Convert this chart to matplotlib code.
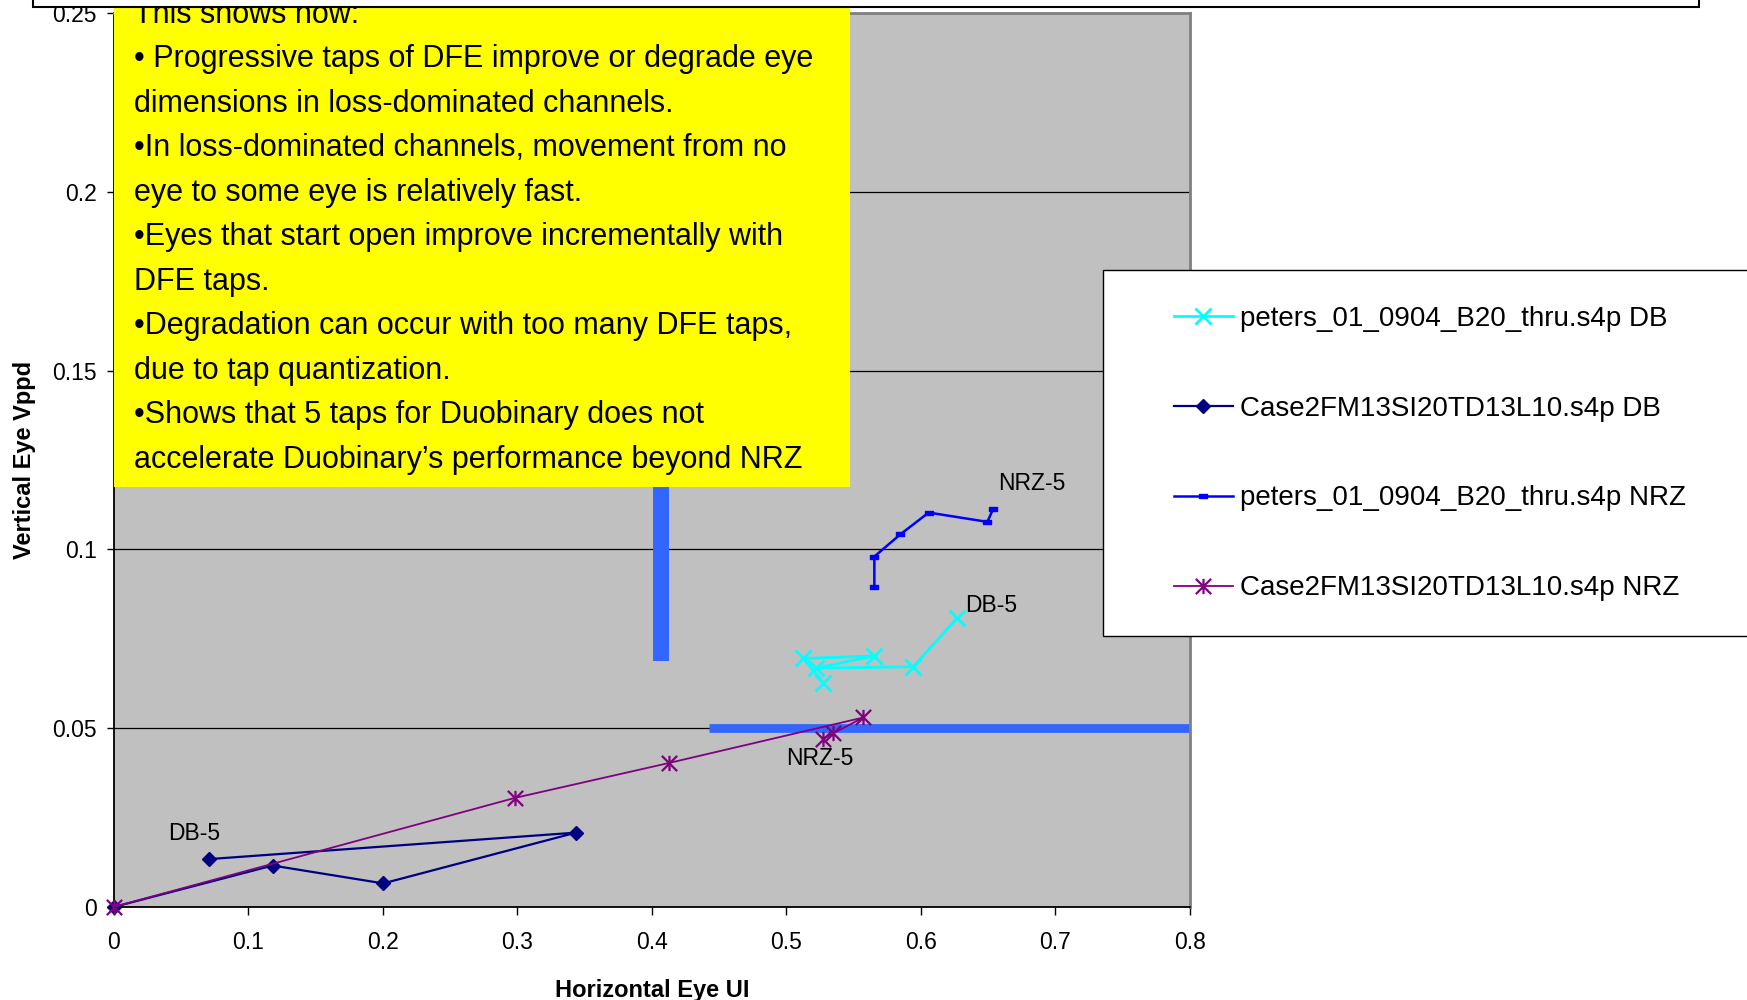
import matplotlib
matplotlib.use("Agg")
import matplotlib.pyplot as plt
from matplotlib.path import Path
from matplotlib.patches import Rectangle

plt.rcParams['font.family'] = ['Liberation Sans', 'DejaVu Sans']

# series (x = horizontal eye UI, y = vertical eye Vppd)
peters_db_x = [0.5275, 0.5126, 0.5654, 0.5220, 0.5944, 0.6266]
peters_db_y = [0.0627, 0.0695, 0.0702, 0.0668, 0.0672, 0.0807]
case2_db_x = [0, 0.1182, 0.2004, 0.3437, 0.0711]
case2_db_y = [0, 0.0116, 0.0066, 0.0208, 0.0134]
peters_nrz_x = [0.5654, 0.5654, 0.5847, 0.6058, 0.6494, 0.6538]
peters_nrz_y = [0.0895, 0.0980, 0.1042, 0.1103, 0.1077, 0.1114]
case2_nrz_x = [0, 0.2982, 0.4131, 0.5573, 0.5349, 0.5270]
case2_nrz_y = [0, 0.0305, 0.0403, 0.0530, 0.0486, 0.0469]

labels = ['peters_01_0904_B20_thru.s4p DB',
          'Case2FM13SI20TD13L10.s4p DB',
          'peters_01_0904_B20_thru.s4p NRZ',
          'Case2FM13SI20TD13L10.s4p NRZ']

ann_text = ['NRZ-5', 'DB-5', 'NRZ-5', 'DB-5']
ann_x = [0.6575, 0.6327, 0.5002, 0.0406]
ann_y = [0.1184, 0.0842, 0.0415, 0.0206]

# the two thick blue marker bars
vbar_x = 0.4069
vbar_y = [0.0688, 0.125]
hbar_x = [0.4425, 0.8]
hbar_y = 0.05

x_ticks = [0, 0.1, 0.2, 0.3, 0.4, 0.5, 0.6, 0.7, 0.8]
x_ticklabels = ['0', '0.1', '0.2', '0.3', '0.4', '0.5', '0.6', '0.7', '0.8']
y_ticks = [0, 0.05, 0.1, 0.15, 0.2, 0.25]
y_ticklabels = ['0', '0.05', '0.1', '0.15', '0.2', '0.25']

notes = ["This shows how:",
         "\u2022 Progressive taps of DFE improve or degrade eye",
         "dimensions in loss-dominated channels.",
         "\u2022In loss-dominated channels, movement from no",
         "eye to some eye is relatively fast.",
         "\u2022Eyes that start open improve incrementally with",
         "DFE taps.",
         "\u2022Degradation can occur with too many DFE taps,",
         "due to tap quantization.",
         "\u2022Shows that 5 taps for Duobinary does not",
         "accelerate Duobinary\u2019s performance beyond NRZ"]

# custom markers
star = Path([(-0.5, -0.5), (0.5, 0.5), (-0.5, 0.5), (0.5, -0.5), (0, -0.5), (0, 0.5)],
            [Path.MOVETO, Path.LINETO] * 3)
dash = Path([(-1, -0.45), (1, -0.45), (1, 0.45), (-1, 0.45), (-1, -0.45)],
            [Path.MOVETO, Path.LINETO, Path.LINETO, Path.LINETO, Path.CLOSEPOLY])

W, H = 1747, 1000
fig = plt.figure(figsize=(17.47, 10), dpi=100)
ax = fig.add_axes([113.6 / W, 1 - 907 / H, (1190 - 113.6) / W, 894 / H])
ax.set_facecolor('#C0C0C0')

ax.plot([vbar_x, vbar_x], vbar_y, color='#3366FF', lw=11.5, solid_capstyle='butt', zorder=2)
ax.plot(hbar_x, [hbar_y, hbar_y], color='#3366FF', lw=6.3, solid_capstyle='butt', zorder=2)

l1, = ax.plot(peters_db_x, peters_db_y, color='#00FFFF', lw=2, marker='x', ms=11, mew=2, zorder=3)
l2, = ax.plot(case2_db_x, case2_db_y, color='#000080', lw=1.6, marker='D', ms=7.5, zorder=3,
              clip_on=False)
l3, = ax.plot(peters_nrz_x, peters_nrz_y, color='#0000FF', lw=1.8, marker=dash, ms=6, zorder=3)
l4, = ax.plot(case2_nrz_x, case2_nrz_y, color='#800080', lw=1.3, marker=star, ms=11, mew=1.6,
              mfc='none', zorder=3, clip_on=False)

for t, x, y in zip(ann_text, ann_x, ann_y):
    ax.text(x, y, t, fontsize=16.5, ha='left', va='center', zorder=4)

ax.set_xlim(0, 0.8)
ax.set_ylim(0, 0.25)
ax.set_xticks(x_ticks)
ax.set_xticklabels(x_ticklabels)
ax.set_yticks(y_ticks)
ax.set_yticklabels(y_ticklabels)
ax.tick_params(axis='x', direction='out', length=6, width=1, pad=11.5, labelsize=16.5)
ax.tick_params(axis='y', direction='out', length=5, width=1, pad=7, labelsize=16.5)
ax.yaxis.grid(True, color='black', lw=0.9)
ax.set_axisbelow(True)
for s in ['left', 'bottom']:
    ax.spines[s].set_color('black')
    ax.spines[s].set_linewidth(1.3)
for s in ['top', 'right']:
    ax.spines[s].set_color('#808080')
    ax.spines[s].set_linewidth(2)

ax.set_xlabel('Horizontal Eye UI', fontsize=17, fontweight='bold', labelpad=18)
ax.set_ylabel('Vertical Eye Vppd', fontsize=17, fontweight='bold', labelpad=12)

# yellow note box
fig.patches.append(Rectangle((113.6 / W, 1 - 487 / H), (850 - 113.6) / W, 0.6,
                             transform=fig.transFigure, facecolor='#FFFF00',
                             edgecolor='none', zorder=2))
for i, line in enumerate(notes):
    fig.text(134 / W, 1 - (22.7 + 44.5 * i) / H, line, fontsize=22,
             ha='left', va='baseline', zorder=3)

# title box cut at the top
fig.patches.append(Rectangle((33.4 / W, 1 - 6.5 / H), (1699 - 33.4) / W, 0.1,
                             transform=fig.transFigure, facecolor='white',
                             edgecolor='black', lw=1.5, zorder=4))

# legend box running off the right edge
fig.patches.append(Rectangle((1103 / W, 1 - 636 / H), 0.5, 366 / H,
                             transform=fig.transFigure, facecolor='white',
                             edgecolor='black', lw=1, zorder=4))
fig.legend([l1, l2, l3, l4], labels, loc='center left',
           bbox_to_anchor=(1173.5 / W, 1 - 453.5 / H), frameon=False,
           borderpad=0, borderaxespad=0, handlelength=2.15, handletextpad=0.25,
           labelspacing=2.3, fontsize=20, numpoints=1)

fig.savefig('out.png', dpi=100)
